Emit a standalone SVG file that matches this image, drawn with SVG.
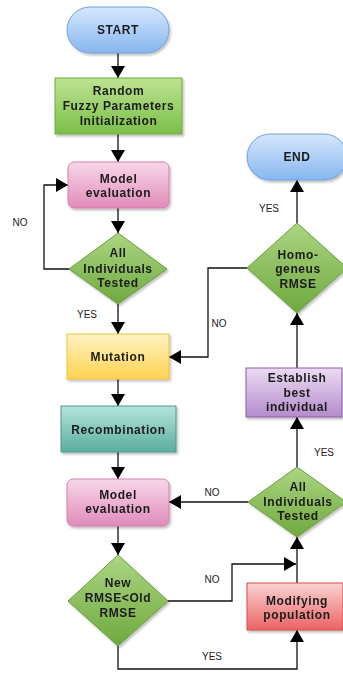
<svg xmlns="http://www.w3.org/2000/svg" width="343" height="673" viewBox="0 0 343 673">
<defs>
<linearGradient id="gBlue" x1="0" y1="0" x2="0" y2="1"><stop offset="0" stop-color="#d6e7fc"/><stop offset="1" stop-color="#86b6ef"/></linearGradient>
<linearGradient id="gGreen" x1="0" y1="0" x2="0" y2="1"><stop offset="0" stop-color="#bde292"/><stop offset="1" stop-color="#7bbf49"/></linearGradient>
<linearGradient id="gDia" x1="0" y1="0" x2="0" y2="1"><stop offset="0" stop-color="#acd582"/><stop offset="1" stop-color="#6fa93f"/></linearGradient>
<linearGradient id="gPink" x1="0" y1="0" x2="0" y2="1"><stop offset="0" stop-color="#f8d8ea"/><stop offset="1" stop-color="#e08bb8"/></linearGradient>
<linearGradient id="gYellow" x1="0" y1="0" x2="0" y2="1"><stop offset="0" stop-color="#fff3c2"/><stop offset="1" stop-color="#ffd251"/></linearGradient>
<linearGradient id="gTeal" x1="0" y1="0" x2="0" y2="1"><stop offset="0" stop-color="#b4e4db"/><stop offset="1" stop-color="#5aae9d"/></linearGradient>
<linearGradient id="gPurple" x1="0" y1="0" x2="0" y2="1"><stop offset="0" stop-color="#ecdbf2"/><stop offset="1" stop-color="#b48bcb"/></linearGradient>
<linearGradient id="gRed" x1="0" y1="0" x2="0" y2="1"><stop offset="0" stop-color="#fbd3d3"/><stop offset="1" stop-color="#ea6363"/></linearGradient>
<filter id="sh" x="-10%" y="-10%" width="130%" height="140%"><feDropShadow dx="1.5" dy="2" stdDeviation="1.2" flood-color="#000" flood-opacity="0.25"/></filter>
<marker id="ah" viewBox="0 0 12 14" refX="12" refY="7" markerWidth="12" markerHeight="14" markerUnits="userSpaceOnUse" orient="auto"><path d="M0,0 L12,7 L0,14 z" fill="#000"/></marker>
<style>
.t{font-family:"Liberation Sans",Arial,sans-serif;font-size:12px;font-weight:bold;fill:#1c1c1c;text-anchor:middle;letter-spacing:0.6px}
.l{font-family:"Liberation Sans",Arial,sans-serif;font-size:10px;fill:#222;text-anchor:middle}
.c{fill:none;stroke:#111;stroke-width:1.3}
.a{marker-end:url(#ah)}
</style>
</defs>
<g id="connectors">
<path class="c a" d="M118,53 V78"/>
<path class="c a" d="M118,134 V162"/>
<path class="c a" d="M118,208 V233"/>
<path class="c a" d="M69,269 H44 V185 H68"/>
<path class="c a" d="M118,304 V334"/>
<path class="c a" d="M118,379 V406"/>
<path class="c a" d="M118,452 V479"/>
<path class="c a" d="M118,526 V555"/>
<path class="c a" d="M168,601 H232 V564 H296"/>
<path class="c a" d="M118,646 V669 H297 V630"/>
<path class="c a" d="M297,583 V537"/>
<path class="c a" d="M248,502 H169"/>
<path class="c a" d="M297,467 V417"/>
<path class="c a" d="M297,368 V313"/>
<path class="c a" d="M247,268 H208 V357 H169"/>
<path class="c a" d="M297,223 V180"/>
<text class="l" x="20" y="226">NO</text>
<text class="l" x="87" y="318">YES</text>
<text class="l" x="219" y="327">NO</text>
<text class="l" x="269" y="212">YES</text>
<text class="l" x="324" y="456">YES</text>
<text class="l" x="212" y="496">NO</text>
<text class="l" x="212" y="583">NO</text>
<text class="l" x="212" y="660">YES</text>
</g>
<g id="start" filter="url(#sh)"><rect x="67" y="7" width="102" height="46" rx="23" fill="url(#gBlue)" stroke="#6d9fdc"/><text class="t" x="118" y="34">START</text></g>
<g id="init" filter="url(#sh)"><rect x="55" y="78" width="127" height="56" fill="url(#gGreen)" stroke="#6cae3c"/><text class="t" x="118.5" y="95">Random</text><text class="t" x="118.5" y="110">Fuzzy Parameters</text><text class="t" x="118.5" y="125">Initialization</text></g>
<g id="eval1" filter="url(#sh)"><rect x="68" y="162" width="101" height="46" rx="6" fill="url(#gPink)" stroke="#d67fae"/><text class="t" x="118.5" y="183">Model</text><text class="t" x="118.5" y="197">evaluation</text></g>
<g id="tested1" filter="url(#sh)"><polygon points="118,233 167,269 118,304 69,269" fill="url(#gDia)" stroke="#6a9e3c"/><text class="t" x="118" y="257">All</text><text class="t" x="118" y="273">Individuals</text><text class="t" x="118" y="287">Tested</text></g>
<g id="mutation" filter="url(#sh)"><rect x="67" y="334" width="102" height="45" fill="url(#gYellow)" stroke="#f0c23a"/><text class="t" x="118" y="361">Mutation</text></g>
<g id="recombination" filter="url(#sh)"><rect x="61" y="406" width="115" height="46" fill="url(#gTeal)" stroke="#4a9a8a"/><text class="t" x="118.5" y="434">Recombination</text></g>
<g id="eval2" filter="url(#sh)"><rect x="67" y="479" width="102" height="47" rx="6" fill="url(#gPink)" stroke="#d67fae"/><text class="t" x="118" y="499">Model</text><text class="t" x="118" y="513">evaluation</text></g>
<g id="compare" filter="url(#sh)"><polygon points="118,555 168,601 118,646 68,601" fill="url(#gDia)" stroke="#6a9e3c"/><text class="t" x="118" y="587">New</text><text class="t" x="118" y="602">RMSE&lt;Old</text><text class="t" x="118" y="617">RMSE</text></g>
<g id="end" filter="url(#sh)"><rect x="247" y="134" width="100" height="46" rx="23" fill="url(#gBlue)" stroke="#6d9fdc"/><text class="t" x="297" y="161">END</text></g>
<g id="homogeneus" filter="url(#sh)"><polygon points="297,223 347,268 297,313 247,268" fill="url(#gDia)" stroke="#6a9e3c"/><text class="t" x="298" y="259">Homo-</text><text class="t" x="298" y="273">geneus</text><text class="t" x="298" y="288">RMSE</text></g>
<g id="establish" filter="url(#sh)"><rect x="246" y="368" width="96" height="49" fill="url(#gPurple)" stroke="#8e5ca8"/><text class="t" x="297" y="382">Establish</text><text class="t" x="297" y="397">best</text><text class="t" x="297" y="411">individual</text></g>
<g id="tested2" filter="url(#sh)"><polygon points="297,467 346,502 297,537 248,502" fill="url(#gDia)" stroke="#6a9e3c"/><text class="t" x="298" y="491">All</text><text class="t" x="298" y="506">Individuals</text><text class="t" x="298" y="520">Tested</text></g>
<g id="modifying" filter="url(#sh)"><rect x="247" y="583" width="96" height="47" fill="url(#gRed)" stroke="#d84a4a"/><text class="t" x="297" y="605">Modifying</text><text class="t" x="297" y="619">population</text></g>
</svg>
